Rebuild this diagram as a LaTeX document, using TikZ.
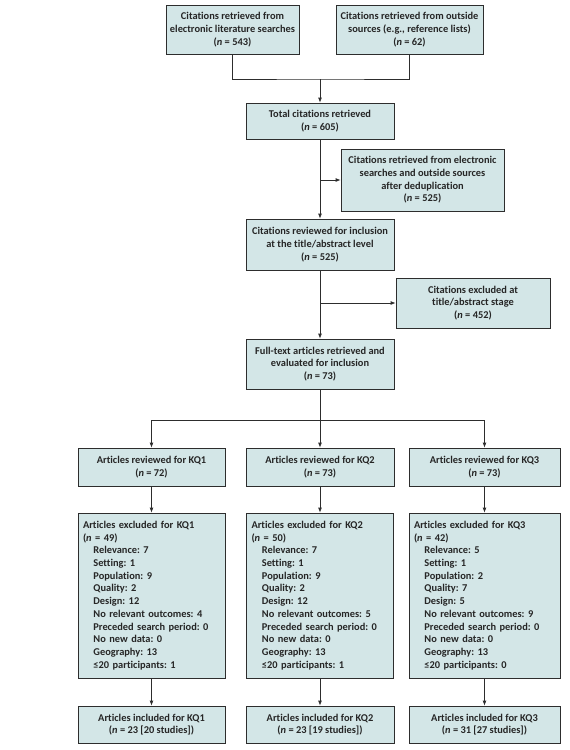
\documentclass[tikz,border=0pt]{standalone}
\usepackage{fontspec}
\setmainfont{Carlito}[Ligatures=NoCommon]
\usetikzlibrary{positioning,arrows.meta}
\definecolor{boxfill}{RGB}{211,230,231}
\definecolor{boxline}{RGB}{45,45,45}
\tikzstyle{stage} = [draw=boxline, fill=boxfill, line width=0.8pt, align=center, inner sep=0pt, text=black!85, font=\frenchspacing\bfseries\fontsize{10.4}{12.7}\selectfont]
\tikzstyle{reason} = [stage, align=left, text width=137pt, inner xsep=5pt, minimum height=165pt]
\tikzstyle{link} = [draw=boxline, line width=0.8pt]
\tikzstyle{flow} = [link, -{Latex[length=5pt,width=4pt]}]
\newcommand{\nn}[1]{(\textit{n} = #1)}

\begin{document}
\begin{tikzpicture}[x=1pt, y=-1pt]
    \useasboundingbox (0,0) rectangle (570,750);
    \node[stage, minimum width=133pt, minimum height=49pt] (elec) at (232.5, 29.5) {Citations retrieved from\\electronic literature searches\\\nn{543}};
    \node[stage, minimum width=147pt, minimum height=49pt] (outside) at (409.5, 29.5) {Citations retrieved from outside\\sources (e.g., reference lists)\\\nn{62}};
    \coordinate (join) at (320, 79);
    \node[stage, minimum width=148pt, minimum height=36pt] (total) at (320, 121) {Total citations retrieved\\\nn{605}};
    \node[stage, minimum width=163pt, minimum height=62pt] (dedup) at (422.5, 180) {Citations retrieved from electronic\\searches and outside sources\\after deduplication\\\nn{525}};
    \node[stage, minimum width=148pt, minimum height=51pt] (screen) at (320, 244.5) {Citations reviewed for inclusion\\at the title/abstract level\\\nn{525}};
    \node[stage, minimum width=154pt, minimum height=50pt] (excl) at (473, 303) {Citations excluded at\\title/abstract stage\\\nn{452}};
    \node[stage, minimum width=148pt, minimum height=50pt] (full) at (320, 364) {Full-text articles retrieved and\\evaluated for inclusion\\\nn{73}};
    \coordinate (split) at (320, 420);
    % key questions
    \node[stage, minimum width=147pt, minimum height=38pt] (rev1) at (151.5, 467) {Articles reviewed for KQ1\\\nn{72}};
    \node[stage, minimum width=148pt, minimum height=38pt] (rev2) at (320, 467) {Articles reviewed for KQ2\\\nn{73}};
    \node[stage, minimum width=151pt, minimum height=38pt] (rev3) at (484.5, 467) {Articles reviewed for KQ3\\\nn{73}};
    \node[reason] (out1) at (151.5, 595.5) {Articles excluded for KQ1\\\nn{49}\\
        \hspace*{1em}Relevance: 7\\\hspace*{1em}Setting: 1\\\hspace*{1em}Population: 9\\\hspace*{1em}Quality: 2\\\hspace*{1em}Design: 12\\
        \hspace*{1em}No relevant outcomes: 4\\\hspace*{1em}Preceded search period: 0\\\hspace*{1em}No new data: 0\\\hspace*{1em}Geography: 13\\\hspace*{1em}≤20 participants: 1};
    \node[reason] (out2) at (320, 595.5) {Articles excluded for KQ2\\\nn{50}\\
        \hspace*{1em}Relevance: 7\\\hspace*{1em}Setting: 1\\\hspace*{1em}Population: 9\\\hspace*{1em}Quality: 2\\\hspace*{1em}Design: 12\\
        \hspace*{1em}No relevant outcomes: 5\\\hspace*{1em}Preceded search period: 0\\\hspace*{1em}No new data: 0\\\hspace*{1em}Geography: 13\\\hspace*{1em}≤20 participants: 1};
    \node[reason, text width=141pt] (out3) at (484.5, 595.5) {Articles excluded for KQ3\\\nn{42}\\
        \hspace*{1em}Relevance: 5\\\hspace*{1em}Setting: 1\\\hspace*{1em}Population: 2\\\hspace*{1em}Quality: 7\\\hspace*{1em}Design: 5\\
        \hspace*{1em}No relevant outcomes: 9\\\hspace*{1em}Preceded search period: 0\\\hspace*{1em}No new data: 0\\\hspace*{1em}Geography: 13\\\hspace*{1em}≤20 participants: 0};
    \node[stage, minimum width=147pt, minimum height=37pt] (in1) at (151.5, 724.5) {Articles included for KQ1\\(\textit{n} = 23 [20 studies])};
    \node[stage, minimum width=148pt, minimum height=37pt] (in2) at (320, 724.5) {Articles included for KQ2\\(\textit{n} = 23 [19 studies])};
    \node[stage, minimum width=151pt, minimum height=37pt] (in3) at (484.5, 724.5) {Articles included for KQ3\\(\textit{n} = 31 [27 studies])};
    % connectors
    \draw[link] (elec) |- (join) -| (outside);
    \draw[flow] (join) -- (total);
    \draw[flow] (total) -- (screen);
    \draw[flow] (total.south |- dedup.west) -- (dedup.west);
    \draw[flow] (screen) -- (full);
    \draw[flow] (screen.south |- excl.west) -- (excl.west);
    \draw[link] (full) -- (split);
    \draw[flow] (split) -| (rev1);
    \draw[flow] (split) -- (rev2);
    \draw[flow] (split) -| (rev3);
    \draw[flow] (rev1) -- (out1);
    \draw[flow] (rev2) -- (out2);
    \draw[flow] (rev3) -- (out3);
    \draw[flow] (out1) -- (in1);
    \draw[flow] (out2) -- (in2);
    \draw[flow] (out3) -- (in3);
\end{tikzpicture}
\end{document}
